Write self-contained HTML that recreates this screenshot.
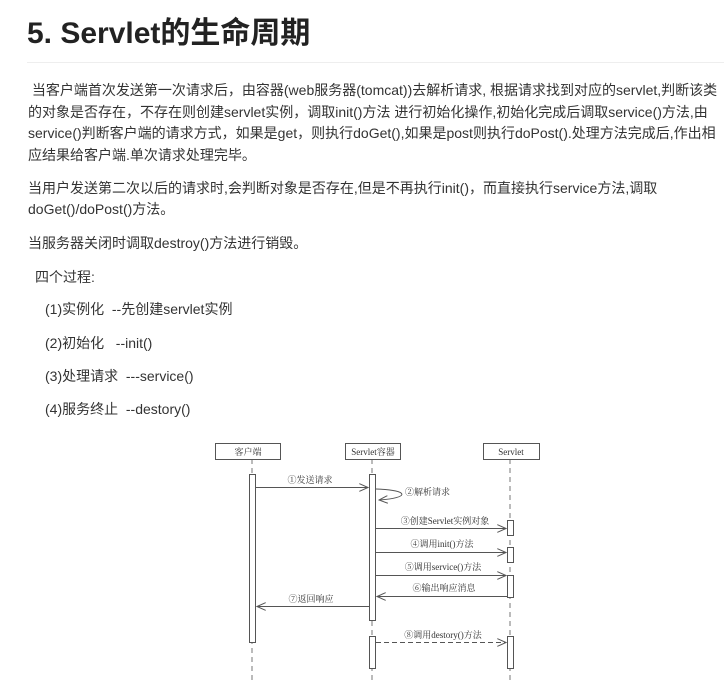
<!DOCTYPE html>
<html><head><meta charset="utf-8"><style>
body{margin:0;width:724px;height:695px;background:#fff;overflow:hidden;position:relative;font-family:"Liberation Sans","Noto Sans CJK SC",sans-serif;color:#333;}
.t{position:absolute;white-space:nowrap;font-size:14px;line-height:20px;}
h1{position:absolute;left:27px;top:14px;margin:0;font-size:30px;line-height:40px;font-weight:bold;color:#222;font-family:"Liberation Sans","Noto Sans CJK SC",sans-serif;}
</style></head><body>
<h1>5. Servlet的生命周期</h1>
<div style="position:absolute;left:27px;top:62px;width:697px;height:1px;background:#eee"></div>
<div class="t" style="left:28px;top:80px">&nbsp;当客户端首次发送第一次请求后，由容器(web服务器(tomcat))去解析请求, 根据请求找到对应的servlet,判断该类</div>
<div class="t" style="left:28px;top:102px">的对象是否存在，不存在则创建servlet实例，调取init()方法 进行初始化操作,初始化完成后调取service()方法,由</div>
<div class="t" style="left:28px;top:123px">service()判断客户端的请求方式，如果是get，则执行doGet(),如果是post则执行doPost().处理方法完成后,作出相</div>
<div class="t" style="left:28px;top:145px">应结果给客户端.单次请求处理完毕。</div>
<div class="t" style="left:28px;top:178px">当用户发送第二次以后的请求时,会判断对象是否存在,但是不再执行init()，而直接执行service方法,调取</div>
<div class="t" style="left:28px;top:199px">doGet()/doPost()方法。</div>
<div class="t" style="left:28px;top:233px">当服务器关闭时调取destroy()方法进行销毁。</div>
<div class="t" style="left:35px;top:267px">四个过程:</div>
<div class="t" style="left:45px;top:299px">(1)实例化&nbsp; --先创建servlet实例</div>
<div class="t" style="left:45px;top:333px">(2)初始化&nbsp;&nbsp; --init()</div>
<div class="t" style="left:45px;top:366px">(3)处理请求&nbsp; ---service()</div>
<div class="t" style="left:45px;top:399px">(4)服务终止&nbsp; --destory()</div>
<svg style="position:absolute;left:0;top:0" width="724" height="695">
<defs><marker id="a" markerWidth="10" markerHeight="8" refX="9" refY="4" orient="auto" markerUnits="userSpaceOnUse"><path d="M0,0 L9,4 L0,8" fill="none" stroke="#555" stroke-width="1"/></marker></defs>
<g stroke="#777" stroke-width="1" fill="none" stroke-dasharray="5,4">
<line x1="252" y1="459" x2="252" y2="684"/><line x1="372" y1="459" x2="372" y2="684"/><line x1="510" y1="459" x2="510" y2="684"/>
</g>
<g stroke="#555" fill="#fff" stroke-width="1">
<rect x="215.5" y="443.5" width="65" height="16"/><rect x="345.5" y="443.5" width="55" height="16"/><rect x="483.5" y="443.5" width="56" height="16"/>
<rect x="249.5" y="474.5" width="6" height="168"/>
<rect x="369.5" y="474.5" width="6" height="146"/>
<rect x="369.5" y="636.5" width="6" height="32"/>
<rect x="507.5" y="520.5" width="6" height="15"/>
<rect x="507.5" y="547.5" width="6" height="15"/>
<rect x="507.5" y="575.5" width="6" height="22"/>
<rect x="507.5" y="636.5" width="6" height="32"/>
</g>
<g stroke="#555" stroke-width="1" fill="none">
<line x1="256" y1="487.5" x2="368" y2="487.5" marker-end="url(#a)"/>
<path d="M376,489 C410,490 410,498 379,500" marker-end="url(#a)"/>
<line x1="376" y1="528.5" x2="506" y2="528.5" marker-end="url(#a)"/>
<line x1="376" y1="552.5" x2="506" y2="552.5" marker-end="url(#a)"/>
<line x1="376" y1="575.5" x2="506" y2="575.5" marker-end="url(#a)"/>
<line x1="507" y1="596.5" x2="377" y2="596.5" marker-end="url(#a)"/>
<line x1="369" y1="606.5" x2="257" y2="606.5" marker-end="url(#a)"/>
<line x1="376" y1="642.5" x2="506" y2="642.5" stroke-dasharray="5,3" marker-end="url(#a)"/>
</g>
<g font-family="Liberation Serif,Noto Serif CJK SC,serif" font-size="9" fill="#333">
<text x="248" y="455" text-anchor="middle">客户端</text>
<text x="373" y="455" text-anchor="middle">Servlet容器</text>
<text x="511" y="455" text-anchor="middle">Servlet</text>
<text x="310" y="483" text-anchor="middle">①发送请求</text>
<text x="405" y="495">②解析请求</text>
<text x="445" y="524" text-anchor="middle">③创建Servlet实例对象</text>
<text x="442" y="547" text-anchor="middle">④调用init()方法</text>
<text x="443" y="570" text-anchor="middle">⑤调用service()方法</text>
<text x="444" y="591" text-anchor="middle">⑥输出响应消息</text>
<text x="311" y="602" text-anchor="middle">⑦返回响应</text>
<text x="443" y="638" text-anchor="middle">⑧调用destory()方法</text>
</g>
</svg>
</body></html>
